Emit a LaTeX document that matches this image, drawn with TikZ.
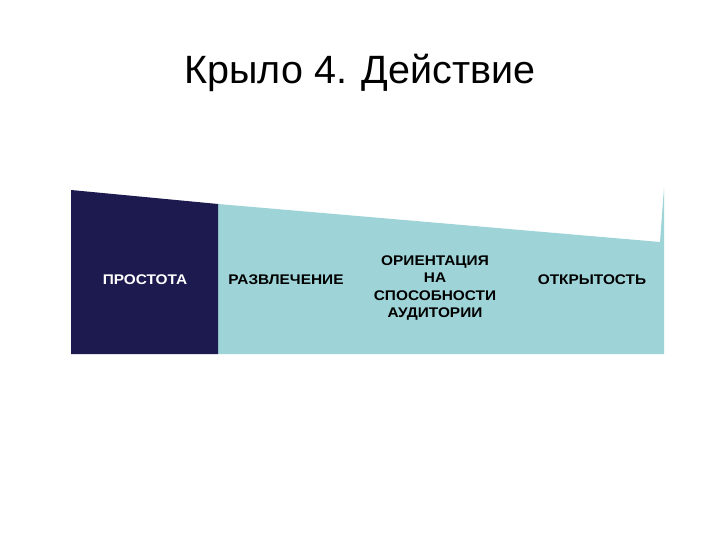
\documentclass[tikz,border=0pt]{standalone}
\usepackage{fontspec}
\setmainfont{Liberation Sans}
\definecolor{navy}{HTML}{1C1A4E}
\definecolor{aqua}{HTML}{9ED3D8}
\tikzset{
  lbl/.style={font=\fontsize{14}{17.4}\selectfont\bfseries, align=center, inner sep=0pt, xscale=1.1, transform shape},
}
\begin{document}
\begin{tikzpicture}[x=1pt,y=-1pt]
\useasboundingbox (0,0) rectangle (720,540);
\fill[white] (0,0) rectangle (720,540);
\node[font=\fontsize{39.5}{42}\selectfont, anchor=base] (title) at (360,84) {Крыло 4. Действие};
\fill[aqua] (218,204) -- (660,242) -- (664,188) -- (664,354) -- (218,354) -- cycle;
\fill[navy] (71,190) -- (218,204) -- (218,354) -- (71,354) -- cycle;
\node[lbl, text=white] (a) at (145,280) {ПРОСТОТА};
\node[lbl, text=black] (b) at (286,280) {РАЗВЛЕЧЕНИЕ};
\node[lbl, text=black] (c) at (435,288) {ОРИЕНТАЦИЯ\\НА\\СПОСОБНОСТИ\\АУДИТОРИИ};
\node[lbl, text=black] (d) at (592,280) {ОТКРЫТОСТЬ};
\end{tikzpicture}
\end{document}
